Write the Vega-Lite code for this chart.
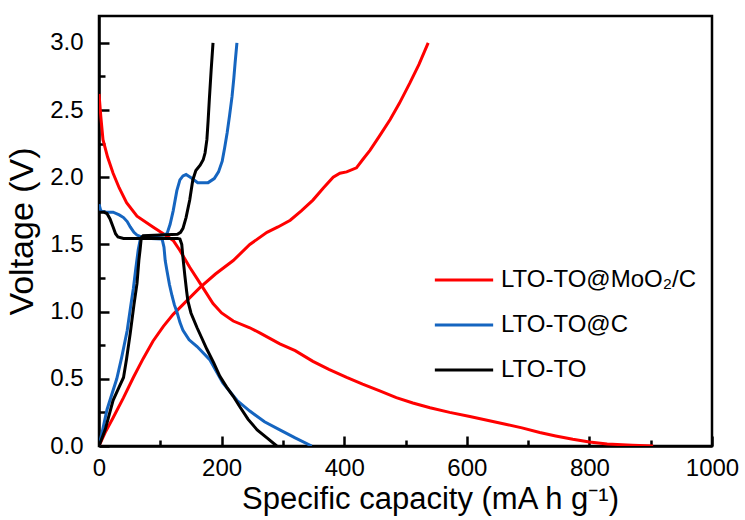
{
  "$schema": "https://vega.github.io/schema/vega-lite/v6.json",
  "width": 613,
  "height": 430,
  "autosize": {"type": "none"},
  "padding": {"left": 99, "top": 16, "right": 33, "bottom": 74},
  "background": "white",
  "config": {
    "view": {"stroke": "black", "strokeWidth": 2.5},
    "font": "Liberation Sans"
  },
  "datasets": {
    "curves": [
      {"s":"LTO-TO@MoO₂/C","seg":"d","x":0,"y":2.62},{"s":"LTO-TO@MoO₂/C","seg":"d","x":3,"y":2.45},{"s":"LTO-TO@MoO₂/C","seg":"d","x":6.5,"y":2.28},{"s":"LTO-TO@MoO₂/C","seg":"d","x":14,"y":2.15},{"s":"LTO-TO@MoO₂/C","seg":"d","x":23,"y":2.03},{"s":"LTO-TO@MoO₂/C","seg":"d","x":33,"y":1.92},{"s":"LTO-TO@MoO₂/C","seg":"d","x":45,"y":1.81},{"s":"LTO-TO@MoO₂/C","seg":"d","x":62,"y":1.71},{"s":"LTO-TO@MoO₂/C","seg":"d","x":88,"y":1.63},{"s":"LTO-TO@MoO₂/C","seg":"d","x":105,"y":1.58},{"s":"LTO-TO@MoO₂/C","seg":"d","x":121,"y":1.53},{"s":"LTO-TO@MoO₂/C","seg":"d","x":132,"y":1.455},{"s":"LTO-TO@MoO₂/C","seg":"d","x":148,"y":1.33},{"s":"LTO-TO@MoO₂/C","seg":"d","x":165,"y":1.21},{"s":"LTO-TO@MoO₂/C","seg":"d","x":186,"y":1.06},{"s":"LTO-TO@MoO₂/C","seg":"d","x":200,"y":0.99},{"s":"LTO-TO@MoO₂/C","seg":"d","x":219,"y":0.93},{"s":"LTO-TO@MoO₂/C","seg":"d","x":246,"y":0.88},{"s":"LTO-TO@MoO₂/C","seg":"d","x":263,"y":0.84},{"s":"LTO-TO@MoO₂/C","seg":"d","x":295,"y":0.76},{"s":"LTO-TO@MoO₂/C","seg":"d","x":320,"y":0.71},{"s":"LTO-TO@MoO₂/C","seg":"d","x":349,"y":0.63},{"s":"LTO-TO@MoO₂/C","seg":"d","x":375,"y":0.57},{"s":"LTO-TO@MoO₂/C","seg":"d","x":404,"y":0.51},{"s":"LTO-TO@MoO₂/C","seg":"d","x":430,"y":0.46},{"s":"LTO-TO@MoO₂/C","seg":"d","x":458,"y":0.41},{"s":"LTO-TO@MoO₂/C","seg":"d","x":485,"y":0.36},{"s":"LTO-TO@MoO₂/C","seg":"d","x":512,"y":0.32},{"s":"LTO-TO@MoO₂/C","seg":"d","x":540,"y":0.285},{"s":"LTO-TO@MoO₂/C","seg":"d","x":572,"y":0.25},{"s":"LTO-TO@MoO₂/C","seg":"d","x":605,"y":0.22},{"s":"LTO-TO@MoO₂/C","seg":"d","x":635,"y":0.19},{"s":"LTO-TO@MoO₂/C","seg":"d","x":665,"y":0.16},{"s":"LTO-TO@MoO₂/C","seg":"d","x":690,"y":0.135},{"s":"LTO-TO@MoO₂/C","seg":"d","x":719,"y":0.10},{"s":"LTO-TO@MoO₂/C","seg":"d","x":745,"y":0.075},{"s":"LTO-TO@MoO₂/C","seg":"d","x":773,"y":0.05},{"s":"LTO-TO@MoO₂/C","seg":"d","x":800,"y":0.03},{"s":"LTO-TO@MoO₂/C","seg":"d","x":829,"y":0.015},{"s":"LTO-TO@MoO₂/C","seg":"d","x":870,"y":0.006},{"s":"LTO-TO@MoO₂/C","seg":"d","x":904,"y":0.0},
      {"s":"LTO-TO@MoO₂/C","seg":"c","x":0,"y":0},{"s":"LTO-TO@MoO₂/C","seg":"c","x":10,"y":0.1},{"s":"LTO-TO@MoO₂/C","seg":"c","x":23,"y":0.21},{"s":"LTO-TO@MoO₂/C","seg":"c","x":40,"y":0.36},{"s":"LTO-TO@MoO₂/C","seg":"c","x":56,"y":0.51},{"s":"LTO-TO@MoO₂/C","seg":"c","x":72,"y":0.65},{"s":"LTO-TO@MoO₂/C","seg":"c","x":88,"y":0.78},{"s":"LTO-TO@MoO₂/C","seg":"c","x":105,"y":0.89},{"s":"LTO-TO@MoO₂/C","seg":"c","x":121,"y":0.98},{"s":"LTO-TO@MoO₂/C","seg":"c","x":143,"y":1.08},{"s":"LTO-TO@MoO₂/C","seg":"c","x":165,"y":1.18},{"s":"LTO-TO@MoO₂/C","seg":"c","x":190,"y":1.28},{"s":"LTO-TO@MoO₂/C","seg":"c","x":219,"y":1.38},{"s":"LTO-TO@MoO₂/C","seg":"c","x":246,"y":1.50},{"s":"LTO-TO@MoO₂/C","seg":"c","x":274,"y":1.59},{"s":"LTO-TO@MoO₂/C","seg":"c","x":292,"y":1.63},{"s":"LTO-TO@MoO₂/C","seg":"c","x":312,"y":1.68},{"s":"LTO-TO@MoO₂/C","seg":"c","x":330,"y":1.75},{"s":"LTO-TO@MoO₂/C","seg":"c","x":349,"y":1.83},{"s":"LTO-TO@MoO₂/C","seg":"c","x":366,"y":1.92},{"s":"LTO-TO@MoO₂/C","seg":"c","x":382,"y":2.0},{"s":"LTO-TO@MoO₂/C","seg":"c","x":393,"y":2.03},{"s":"LTO-TO@MoO₂/C","seg":"c","x":404,"y":2.04},{"s":"LTO-TO@MoO₂/C","seg":"c","x":420,"y":2.07},{"s":"LTO-TO@MoO₂/C","seg":"c","x":430,"y":2.13},{"s":"LTO-TO@MoO₂/C","seg":"c","x":442,"y":2.20},{"s":"LTO-TO@MoO₂/C","seg":"c","x":458,"y":2.31},{"s":"LTO-TO@MoO₂/C","seg":"c","x":475,"y":2.43},{"s":"LTO-TO@MoO₂/C","seg":"c","x":490,"y":2.55},{"s":"LTO-TO@MoO₂/C","seg":"c","x":507,"y":2.70},{"s":"LTO-TO@MoO₂/C","seg":"c","x":522,"y":2.84},{"s":"LTO-TO@MoO₂/C","seg":"c","x":537,"y":3.0},
      {"s":"LTO-TO@C","seg":"d","x":0,"y":1.80},{"s":"LTO-TO@C","seg":"d","x":3,"y":1.75},{"s":"LTO-TO@C","seg":"d","x":10,"y":1.74},{"s":"LTO-TO@C","seg":"d","x":23,"y":1.74},{"s":"LTO-TO@C","seg":"d","x":33,"y":1.72},{"s":"LTO-TO@C","seg":"d","x":40,"y":1.70},{"s":"LTO-TO@C","seg":"d","x":46,"y":1.67},{"s":"LTO-TO@C","seg":"d","x":51,"y":1.63},{"s":"LTO-TO@C","seg":"d","x":57,"y":1.59},{"s":"LTO-TO@C","seg":"d","x":62,"y":1.57},{"s":"LTO-TO@C","seg":"d","x":72,"y":1.55},{"s":"LTO-TO@C","seg":"d","x":85,"y":1.545},{"s":"LTO-TO@C","seg":"d","x":103,"y":1.54},{"s":"LTO-TO@C","seg":"d","x":106,"y":1.48},{"s":"LTO-TO@C","seg":"d","x":108,"y":1.38},{"s":"LTO-TO@C","seg":"d","x":111,"y":1.30},{"s":"LTO-TO@C","seg":"d","x":115,"y":1.20},{"s":"LTO-TO@C","seg":"d","x":119,"y":1.12},{"s":"LTO-TO@C","seg":"d","x":123,"y":1.05},{"s":"LTO-TO@C","seg":"d","x":127,"y":1.0},{"s":"LTO-TO@C","seg":"d","x":132,"y":0.92},{"s":"LTO-TO@C","seg":"d","x":137,"y":0.86},{"s":"LTO-TO@C","seg":"d","x":147,"y":0.79},{"s":"LTO-TO@C","seg":"d","x":160,"y":0.74},{"s":"LTO-TO@C","seg":"d","x":181,"y":0.64},{"s":"LTO-TO@C","seg":"d","x":202,"y":0.47},{"s":"LTO-TO@C","seg":"d","x":225,"y":0.34},{"s":"LTO-TO@C","seg":"d","x":246,"y":0.26},{"s":"LTO-TO@C","seg":"d","x":270,"y":0.18},{"s":"LTO-TO@C","seg":"d","x":295,"y":0.12},{"s":"LTO-TO@C","seg":"d","x":320,"y":0.06},{"s":"LTO-TO@C","seg":"d","x":347,"y":0.0},
      {"s":"LTO-TO@C","seg":"c","x":0,"y":0},{"s":"LTO-TO@C","seg":"c","x":6,"y":0.12},{"s":"LTO-TO@C","seg":"c","x":13,"y":0.27},{"s":"LTO-TO@C","seg":"c","x":22,"y":0.40},{"s":"LTO-TO@C","seg":"c","x":29,"y":0.50},{"s":"LTO-TO@C","seg":"c","x":37,"y":0.66},{"s":"LTO-TO@C","seg":"c","x":46,"y":0.86},{"s":"LTO-TO@C","seg":"c","x":52,"y":1.05},{"s":"LTO-TO@C","seg":"c","x":56,"y":1.17},{"s":"LTO-TO@C","seg":"c","x":60,"y":1.32},{"s":"LTO-TO@C","seg":"c","x":64,"y":1.46},{"s":"LTO-TO@C","seg":"c","x":67,"y":1.53},{"s":"LTO-TO@C","seg":"c","x":72,"y":1.56},{"s":"LTO-TO@C","seg":"c","x":90,"y":1.565},{"s":"LTO-TO@C","seg":"c","x":105,"y":1.57},{"s":"LTO-TO@C","seg":"c","x":111,"y":1.58},{"s":"LTO-TO@C","seg":"c","x":116,"y":1.65},{"s":"LTO-TO@C","seg":"c","x":121,"y":1.75},{"s":"LTO-TO@C","seg":"c","x":127,"y":1.90},{"s":"LTO-TO@C","seg":"c","x":132,"y":1.98},{"s":"LTO-TO@C","seg":"c","x":137,"y":2.01},{"s":"LTO-TO@C","seg":"c","x":142,"y":2.02},{"s":"LTO-TO@C","seg":"c","x":152,"y":1.99},{"s":"LTO-TO@C","seg":"c","x":161,"y":1.96},{"s":"LTO-TO@C","seg":"c","x":178,"y":1.96},{"s":"LTO-TO@C","seg":"c","x":188,"y":1.99},{"s":"LTO-TO@C","seg":"c","x":195,"y":2.04},{"s":"LTO-TO@C","seg":"c","x":201,"y":2.12},{"s":"LTO-TO@C","seg":"c","x":205,"y":2.22},{"s":"LTO-TO@C","seg":"c","x":209,"y":2.33},{"s":"LTO-TO@C","seg":"c","x":213,"y":2.46},{"s":"LTO-TO@C","seg":"c","x":217,"y":2.60},{"s":"LTO-TO@C","seg":"c","x":220,"y":2.74},{"s":"LTO-TO@C","seg":"c","x":222,"y":2.85},{"s":"LTO-TO@C","seg":"c","x":225,"y":3.0},
      {"s":"LTO-TO","seg":"d","x":0,"y":1.74},{"s":"LTO-TO","seg":"d","x":8,"y":1.74},{"s":"LTO-TO","seg":"d","x":13,"y":1.73},{"s":"LTO-TO","seg":"d","x":18,"y":1.69},{"s":"LTO-TO","seg":"d","x":23,"y":1.63},{"s":"LTO-TO","seg":"d","x":27,"y":1.58},{"s":"LTO-TO","seg":"d","x":31,"y":1.555},{"s":"LTO-TO","seg":"d","x":40,"y":1.545},{"s":"LTO-TO","seg":"d","x":80,"y":1.545},{"s":"LTO-TO","seg":"d","x":128,"y":1.545},{"s":"LTO-TO","seg":"d","x":132,"y":1.54},{"s":"LTO-TO","seg":"d","x":135,"y":1.50},{"s":"LTO-TO","seg":"d","x":137,"y":1.40},{"s":"LTO-TO","seg":"d","x":140,"y":1.27},{"s":"LTO-TO","seg":"d","x":143,"y":1.15},{"s":"LTO-TO","seg":"d","x":145,"y":1.08},{"s":"LTO-TO","seg":"d","x":150,"y":0.99},{"s":"LTO-TO","seg":"d","x":160,"y":0.88},{"s":"LTO-TO","seg":"d","x":168,"y":0.80},{"s":"LTO-TO","seg":"d","x":176,"y":0.72},{"s":"LTO-TO","seg":"d","x":187,"y":0.62},{"s":"LTO-TO","seg":"d","x":197,"y":0.52},{"s":"LTO-TO","seg":"d","x":208,"y":0.44},{"s":"LTO-TO","seg":"d","x":219,"y":0.37},{"s":"LTO-TO","seg":"d","x":230,"y":0.29},{"s":"LTO-TO","seg":"d","x":243,"y":0.20},{"s":"LTO-TO","seg":"d","x":258,"y":0.12},{"s":"LTO-TO","seg":"d","x":274,"y":0.06},{"s":"LTO-TO","seg":"d","x":290,"y":0.0},
      {"s":"LTO-TO","seg":"c","x":0,"y":0},{"s":"LTO-TO","seg":"c","x":10,"y":0.12},{"s":"LTO-TO","seg":"c","x":23,"y":0.34},{"s":"LTO-TO","seg":"c","x":32,"y":0.43},{"s":"LTO-TO","seg":"c","x":40,"y":0.51},{"s":"LTO-TO","seg":"c","x":45,"y":0.65},{"s":"LTO-TO","seg":"c","x":51,"y":0.84},{"s":"LTO-TO","seg":"c","x":57,"y":1.05},{"s":"LTO-TO","seg":"c","x":62,"y":1.21},{"s":"LTO-TO","seg":"c","x":65,"y":1.38},{"s":"LTO-TO","seg":"c","x":67,"y":1.46},{"s":"LTO-TO","seg":"c","x":69,"y":1.55},{"s":"LTO-TO","seg":"c","x":72,"y":1.565},{"s":"LTO-TO","seg":"c","x":100,"y":1.57},{"s":"LTO-TO","seg":"c","x":128,"y":1.575},{"s":"LTO-TO","seg":"c","x":133,"y":1.59},{"s":"LTO-TO","seg":"c","x":137,"y":1.62},{"s":"LTO-TO","seg":"c","x":142,"y":1.70},{"s":"LTO-TO","seg":"c","x":148,"y":1.83},{"s":"LTO-TO","seg":"c","x":153,"y":1.98},{"s":"LTO-TO","seg":"c","x":158,"y":2.05},{"s":"LTO-TO","seg":"c","x":165,"y":2.09},{"s":"LTO-TO","seg":"c","x":170,"y":2.13},{"s":"LTO-TO","seg":"c","x":173,"y":2.18},{"s":"LTO-TO","seg":"c","x":176,"y":2.28},{"s":"LTO-TO","seg":"c","x":178,"y":2.42},{"s":"LTO-TO","seg":"c","x":180,"y":2.58},{"s":"LTO-TO","seg":"c","x":183,"y":2.80},{"s":"LTO-TO","seg":"c","x":186,"y":3.0}
    ]
  },
  "data": {"name": "curves"},
  "mark": {"type": "line", "strokeWidth": 3, "clip": true},
  "encoding": {
    "x": {
      "field": "x", "type": "quantitative",
      "scale": {"domain": [0, 1000], "nice": false, "zero": false},
      "axis": {
        "title": "Specific capacity (mA h g⁻¹)",
        "titleX": 331,
        "values": [0,100,200,300,400,500,600,700,800,900,1000],
        "labelExpr": "datum.value % 200 === 0 ? format(datum.value, 'd') : ''",
        "grid": false,
        "domainColor": "black", "domainWidth": 2.5,
        "tickColor": "black", "tickWidth": 2.5,
        "tickSize": {"condition": {"test": "datum.value % 200 === 0", "value": -10}, "value": -6},
        "labelFont": "Liberation Sans", "labelFontSize": 24, "labelColor": "black",
        "labelPadding": 20, "labelFlush": false,
        "titleFont": "Liberation Sans", "titleFontSize": 31, "titleFontWeight": "normal", "titleColor": "black",
        "titlePadding": 4
      }
    },
    "y": {
      "field": "y", "type": "quantitative",
      "scale": {"domain": [0, 3.2], "nice": false, "zero": false},
      "axis": {
        "title": "Voltage (V)",
        "titleY": 215,
        "values": [0,0.25,0.5,0.75,1,1.25,1.5,1.75,2,2.25,2.5,2.75,3],
        "labelExpr": "datum.value % 0.5 === 0 ? format(datum.value, '.1f') : ''",
        "grid": false,
        "domainColor": "black", "domainWidth": 2.5,
        "tickColor": "black", "tickWidth": 2.5,
        "tickSize": {"condition": {"test": "datum.value % 0.5 === 0", "value": -10}, "value": -6},
        "labelFont": "Liberation Sans", "labelFontSize": 24, "labelColor": "black",
        "labelPadding": 26, "labelFlush": false,
        "titleFont": "Liberation Sans", "titleFontSize": 34, "titleFontWeight": "normal", "titleColor": "black",
        "titlePadding": 10
      }
    },
    "color": {
      "field": "s", "type": "nominal",
      "scale": {"domain": ["LTO-TO@MoO₂/C", "LTO-TO@C", "LTO-TO"], "range": ["#ff0000", "#1565c0", "#000000"]},
      "legend": {
        "title": null,
        "orient": "none",
        "legendX": 334,
        "legendY": 233,
        "symbolType": "stroke",
        "symbolSize": 3400,
        "symbolStrokeWidth": 3,
        "labelFont": "Liberation Sans",
        "labelFontSize": 24,
        "labelColor": "black",
        "labelOffset": 6,
        "rowPadding": 2,
        "labelLimit": 400
      }
    },
    "detail": {"field": "seg"},
    "order": {"value": null}
  }
}
